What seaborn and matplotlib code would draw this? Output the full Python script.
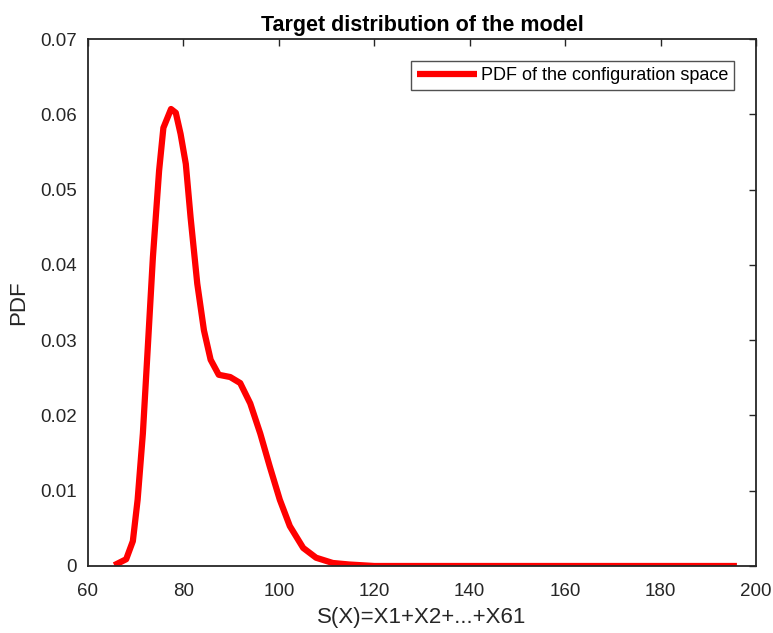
import matplotlib
matplotlib.use("Agg")
import matplotlib.pyplot as plt
import seaborn as sns
import pandas as pd

# values
s_values = [65.5, 68.0, 69.4, 70.4, 71.5, 72.5, 73.6, 74.9, 75.8, 77.4,
            78.4, 79.4, 80.5, 81.5, 82.9, 84.3, 85.7, 87.4, 89.8, 91.9,
            94.0, 96.1, 98.1, 100.2, 102.3, 105.1, 107.8, 111.3, 114.7,
            120.0, 140.0, 160.0, 180.0, 196.0]
pdf_values = [0.0001, 0.0009, 0.0033, 0.0088, 0.0176, 0.0287, 0.0410, 0.0525, 0.0582, 0.0607,
              0.0602, 0.0574, 0.0534, 0.0463, 0.0375, 0.0313, 0.0274, 0.0254, 0.0251, 0.0243,
              0.0216, 0.0176, 0.0132, 0.0088, 0.0053, 0.0024, 0.0011, 0.0004, 0.0002,
              0.0, 0.0, 0.0, 0.0, 0.0]
x_ticks = [60, 80, 100, 120, 140, 160, 180, 200]
y_ticks = [0, 0.01, 0.02, 0.03, 0.04, 0.05, 0.06, 0.07]
y_ticklabels = ["0", "0.01", "0.02", "0.03", "0.04", "0.05", "0.06", "0.07"]

df = pd.DataFrame({"S": s_values, "PDF": pdf_values})

sns.set_style("white")
plt.rcParams["font.family"] = ["Liberation Sans", "DejaVu Sans"]
dark = "#262626"

fig = plt.figure(figsize=(7.73, 6.33), dpi=100)
ax = fig.add_axes([88 / 773, 1 - 566 / 633, (756 - 88) / 773, (566 - 39) / 633])

sns.lineplot(data=df, x="S", y="PDF", color="#ff0000", linewidth=4.5,
             label="PDF of the configuration space", ax=ax,
             solid_capstyle="butt", solid_joinstyle="round")

ax.set_xlim(60, 200)
ax.set_ylim(0, 0.07)
ax.set_xticks(x_ticks)
ax.set_yticks(y_ticks)
ax.set_yticklabels(y_ticklabels)
ax.tick_params(direction="in", length=5, width=1, colors=dark, labelsize=13.5,
               top=True, right=True, labeltop=False, labelright=False)
ax.tick_params(axis="y", pad=8)
ax.tick_params(axis="x", pad=12)
for sp in ax.spines.values():
    sp.set_color(dark)
    sp.set_linewidth(1.3)

ax.set_xlabel("S(X)=X1+X2+...+X61", fontsize=16, color=dark, labelpad=5)
ax.set_ylabel("PDF", fontsize=16, color=dark, labelpad=8)
ax.set_title("Target distribution of the model", fontsize=15.5, fontweight="bold",
             color="black", pad=6)

leg = ax.legend(loc="upper right", fontsize=13, frameon=True, fancybox=False,
                borderaxespad=1.2, handlelength=3.3, handletextpad=0.2,
                borderpad=0.35)
leg.get_frame().set_edgecolor(dark)
leg.get_frame().set_linewidth(1.0)
for t in leg.get_texts():
    t.set_color("black")

fig.savefig("out.png", dpi=100)
